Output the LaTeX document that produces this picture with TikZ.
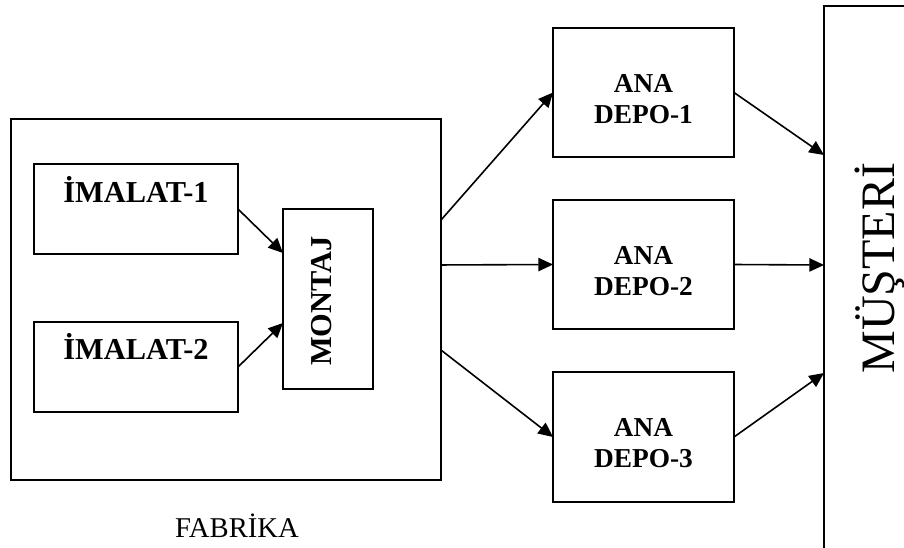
\documentclass[tikz,border=0pt]{standalone}
\usepackage{fontspec}
\setmainfont{Liberation Serif}
\usetikzlibrary{arrows.meta}
\begin{document}
\begin{tikzpicture}[x=0.75pt,y=-0.75pt,
  box/.style={draw,line width=1.2pt,inner sep=0pt,outer sep=0pt,rectangle},
  conn/.style={line width=1.2pt,-{Triangle[length=11pt,width=10pt]}},
  boldlbl/.style={font=\fontsize{22.8pt}{26pt}\selectfont\bfseries,inner sep=0pt},
  depolbl/.style={font=\fontsize{20.5pt}{23.25pt}\selectfont\bfseries,align=center,inner sep=0pt}]
\useasboundingbox (0,0) rectangle (904,547);
\clip (0,0) rectangle (904,547);
% boxes
\node[box,minimum width=430*0.75pt,minimum height=361*0.75pt] (fab) at (226,299.5) {};
\node[box,minimum width=204*0.75pt,minimum height=90*0.75pt] (im1) at (136,209) {};
\node[box,minimum width=204*0.75pt,minimum height=90*0.75pt] (im2) at (136,367) {};
\node[box,minimum width=90*0.75pt,minimum height=180*0.75pt] (mon) at (328,299) {};
\node[box,minimum width=181*0.75pt,minimum height=129*0.75pt] (d1) at (643.5,92.5) {};
\node[box,minimum width=181*0.75pt,minimum height=129*0.75pt] (d2) at (643.5,264.5) {};
\node[box,minimum width=181*0.75pt,minimum height=130*0.75pt] (d3) at (643.5,437) {};
\node[box,minimum width=120*0.75pt,minimum height=594*0.75pt] (mus) at (884,303) {};
% texts
\node[boldlbl,anchor=base] (t1) at (136,202) {İMALAT-1};
\node[boldlbl,anchor=base] (t2) at (136,359) {İMALAT-2};
\node[boldlbl,rotate=90,anchor=base] (tm) at (331,301) {MONTAJ};
\node[depolbl] (td1) at (643.5,99) {ANA\\DEPO-1};
\node[depolbl] (td2) at (643.5,271.5) {ANA\\DEPO-2};
\node[depolbl] (td3) at (643.5,443.5) {ANA\\DEPO-3};
\node[font=\fontsize{21.5pt}{24pt}\selectfont,anchor=base,inner sep=0pt] (tf) at (237,537) {FABRİKA};
\node[font=\fontsize{36pt}{40pt}\selectfont,rotate=90,anchor=base,inner sep=0pt] (tmu) at (894,268) {MÜŞTERİ};
% connectors
\draw[conn] (im1.east) -- ([yshift=34.5pt]mon.west);
\draw[conn] (im2.east) -- ([yshift=-18pt]mon.west);
\draw[conn] ([yshift=59.6pt]fab.east) -- (d1.west);
\draw[conn] ([yshift=25.9pt]fab.east) -- (d2.west);
\draw[conn] ([yshift=-37.9pt]fab.east) -- (d3.west);
\draw[conn] (d1.east) -- ([yshift=111pt]mus.west);
\draw[conn] (d2.east) -- ([yshift=28.5pt]mus.west);
\draw[conn] (d3.east) -- ([yshift=-52.5pt]mus.west);
\end{tikzpicture}
\end{document}
